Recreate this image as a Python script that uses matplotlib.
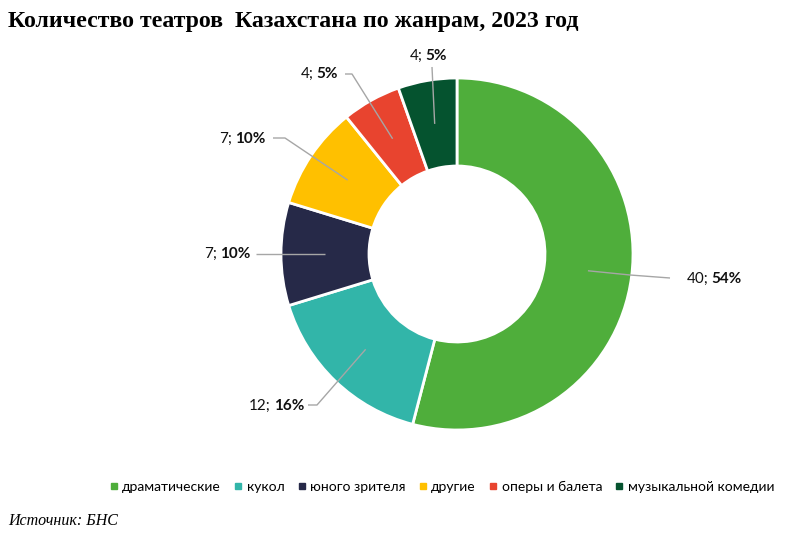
import numpy as np
import matplotlib.pyplot as plt
from matplotlib.lines import Line2D

# данные
genres = ['драматические', 'кукол', 'юного зрителя', 'другие', 'оперы и балета', 'музыкальной комедии']
counts = [40, 12, 7, 7, 4, 4]
pcts = [54, 16, 10, 10, 5, 5]
colors = ['#4FAE3B', '#32B5A9', '#262948', '#FFC000', '#E8442F', '#05532F']

# подписи: левый край текста и точки ломаной выноски (в пикселях)
label_xy = [(687, 279), (249, 406), (204, 254), (219, 139), (301, 74), (410, 56)]
leader_pts = [
    [(630, 275), (670, 278)],
    [(317, 405), (308, 405)],
    [(256, 254)],
    [(285, 138), (273, 138)],
    [(352, 74), (345, 74)],
    [(432, 67)],
]

W, H = 793, 536
cx, cy, R = 457, 254, 176


def px(x, y):
    return (x - cx) / R, (cy - y) / R


fig = plt.figure(figsize=(W / 100, H / 100), dpi=100)
ax = fig.add_axes([0, 0, 1, 1])

wedges, _ = ax.pie(counts, colors=colors, startangle=90, counterclock=False,
                   radius=1, wedgeprops=dict(width=0.5, edgecolor='white', linewidth=2))
ax.set_xlim(-cx / R, (W - cx) / R)
ax.set_ylim(-(H - cy) / R, cy / R)
ax.axis('off')

lab_font = 'Lato'
for w, n, p, (lx, ly), pts in zip(wedges, counts, pcts, label_xy, leader_pts):
    ang = np.deg2rad((w.theta1 + w.theta2) / 2)
    ax0, ay0 = 0.75 * np.cos(ang), 0.75 * np.sin(ang)
    xs = [ax0] + [px(*q)[0] for q in pts]
    ys = [ay0] + [px(*q)[1] for q in pts]
    ax.plot(xs, ys, color='#A6A6A6', lw=1, solid_capstyle='butt')
    tx, ty = px(lx, ly)
    t1 = ax.text(tx, ty, f'{n};', ha='left', va='center', fontsize=11,
                 family=lab_font, color='#111111')
    ax.annotate(f'{p}%', xy=(1, 0.5), xycoords=t1,
                xytext=(2, 0), textcoords='offset points', ha='left', va='center',
                fontsize=11, family=lab_font, weight='bold', color='#111111')

fig.text(8 / W, 1 - 21 / H, 'Количество театров  Казахстана по жанрам, 2023 год',
         family='Liberation Serif', weight='bold', fontsize=17.2, ha='left', va='center')
fig.text(8 / W, 1 - 521 / H, 'Источник: БНС', family='Liberation Serif',
         style='italic', fontsize=11.5, ha='left', va='center')

handles = [Line2D([], [], marker='s', linestyle='none', markersize=5,
                  markerfacecolor=c, markeredgecolor=c) for c in colors]
fig.legend(handles, genres, loc='center', bbox_to_anchor=(442 / W, 1 - 487 / H),
           ncol=6, frameon=False, handlelength=0.6, handletextpad=0.3,
           columnspacing=0.95, prop={'family': lab_font, 'size': 10})

fig.savefig('out.png', dpi=100, facecolor='white')
